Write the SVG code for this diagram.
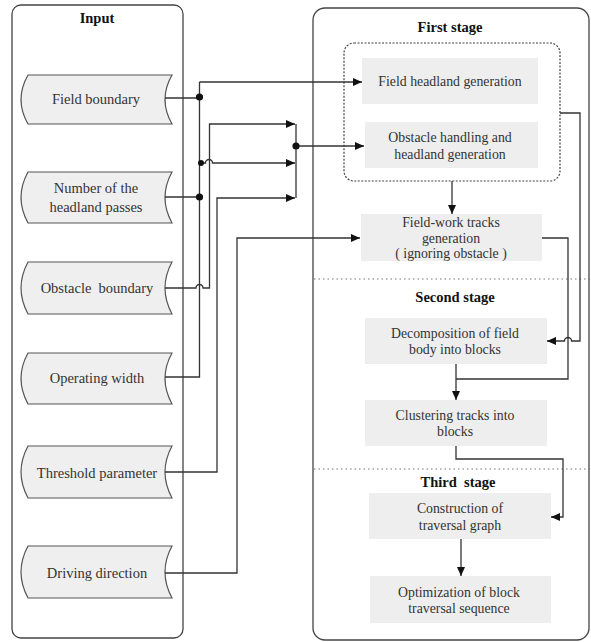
<svg xmlns="http://www.w3.org/2000/svg" width="591" height="642" viewBox="0 0 591 642">
<style>
.panel{fill:#fff;stroke:#444;stroke-width:1.3}
.inp{fill:#efefef;stroke:#555;stroke-width:1.2}
.box{fill:#eeeeee;stroke:none}
.t{font-family:"Liberation Serif","Times New Roman",serif;fill:#333;text-anchor:middle}
.ti{font-size:14.5px}
.tb{font-size:13.8px}
.h{font-family:"Liberation Serif","Times New Roman",serif;font-weight:bold;font-size:14.5px;fill:#111;text-anchor:middle}
.c{fill:none;stroke:#333;stroke-width:1.3}
.ca{fill:none;stroke:#333;stroke-width:1.3;marker-end:url(#arr)}
.dot{fill:#111}
.sep{stroke:#777;stroke-width:1.2;stroke-dasharray:1.5 3;fill:none}
</style>
<defs>
<marker id="arr" markerUnits="userSpaceOnUse" markerWidth="10" markerHeight="8" refX="9" refY="4" orient="auto">
<path d="M0,0 L9,4 L0,8 Z" fill="#111"/>
</marker>
</defs>

<g id="panels">
<rect class="panel" x="12" y="5" width="171" height="633" rx="9"/>
<rect class="panel" x="313" y="8" width="276" height="632" rx="12"/>
<rect x="344" y="43" width="216" height="138" rx="10" fill="none" stroke="#444" stroke-width="1.2" stroke-dasharray="2 1.5"/>
<line class="sep" x1="314" y1="279" x2="591" y2="279"/>
<line class="sep" x1="314" y1="469" x2="591" y2="469"/>
<text class="h" x="97" y="23">Input</text>
<text class="h" x="450" y="32">First stage</text>
<text class="h" x="455" y="302">Second stage</text>
<text class="h" x="458" y="487" xml:space="preserve">Third  stage</text>
</g>

<g id="in-field-boundary">
<path class="inp" d="M28,75 L172,75 Q158,99.5 172,124 L28,124 Q14,99.5 28,75 Z"/>
<text class="t ti" x="96" y="104">Field boundary</text>
</g>
<g id="in-headland-passes">
<path class="inp" d="M28,172 L172,172 Q158,197.5 172,223 L28,223 Q14,197.5 28,172 Z"/>
<text class="t ti" x="96" y="193">Number of the</text>
<text class="t ti" x="96" y="212">headland passes</text>
</g>
<g id="in-obstacle-boundary">
<path class="inp" d="M28,262 L172,262 Q158,288 172,314 L28,314 Q14,288 28,262 Z"/>
<text class="t ti" x="97" y="293" xml:space="preserve">Obstacle  boundary</text>
</g>
<g id="in-operating-width">
<path class="inp" d="M28,353 L172,353 Q158,378.5 172,404 L28,404 Q14,378.5 28,353 Z"/>
<text class="t ti" x="97" y="383">Operating width</text>
</g>
<g id="in-threshold">
<path class="inp" d="M28,446 L172,446 Q158,472 172,498 L28,498 Q14,472 28,446 Z"/>
<text class="t ti" x="97" y="478">Threshold parameter</text>
</g>
<g id="in-driving-direction">
<path class="inp" d="M28,546 L172,546 Q158,572 172,598 L28,598 Q14,572 28,546 Z"/>
<text class="t ti" x="97" y="578">Driving direction</text>
</g>

<g id="n-field-headland">
<rect class="box" x="362" y="58" width="176" height="46"/>
<text class="t tb" x="450" y="86">Field headland generation</text>
</g>
<g id="n-obstacle-handling">
<rect class="box" x="365" y="122" width="173" height="46"/>
<text class="t tb" x="450" y="142">Obstacle handling and</text>
<text class="t tb" x="450" y="159">headland generation</text>
</g>
<g id="n-fieldwork-tracks">
<rect class="box" x="361" y="214" width="181" height="47"/>
<text class="t tb" x="451" y="227">Field-work tracks</text>
<text class="t tb" x="451" y="243">generation</text>
<text class="t tb" x="451" y="258">( ignoring obstacle )</text>
</g>
<g id="n-decomposition">
<rect class="box" x="365" y="318" width="182" height="46"/>
<text class="t tb" x="455" y="338">Decomposition of field</text>
<text class="t tb" x="455" y="354">body into blocks</text>
</g>
<g id="n-clustering">
<rect class="box" x="365" y="400" width="182" height="46"/>
<text class="t tb" x="455" y="420">Clustering tracks into</text>
<text class="t tb" x="455" y="436">blocks</text>
</g>
<g id="n-construction">
<rect class="box" x="369" y="493" width="182" height="46"/>
<text class="t tb" x="460" y="513">Construction of</text>
<text class="t tb" x="460" y="530">traversal graph</text>
</g>
<g id="n-optimization">
<rect class="box" x="370" y="576" width="181" height="47"/>
<text class="t tb" x="459" y="597">Optimization of block</text>
<text class="t tb" x="459" y="613">traversal sequence</text>
</g>

<g id="connectors">
<!-- bus x=199 -->
<path class="c" d="M165,98 L199.5,98"/>
<path class="c" d="M165,197 L199.5,197"/>
<path class="c" d="M165,377 L199.5,377 L199.5,82"/>
<path class="ca" d="M199.5,82 L362,82"/>
<path class="ca" d="M200,163 L205.5,163 A3.5,3.5 0 0 1 212.5,163 L295,163"/>
<!-- obstacle boundary -->
<path class="ca" d="M165,288 L196,288 A3.5,3.5 0 0 1 203,288 L209.5,288 L209.5,124 L295,124"/>
<!-- threshold -->
<path class="ca" d="M165,472 L217,472 L217,198 L295,198"/>
<!-- driving direction -->
<path class="ca" d="M165,573 L237,573 L237,238 L360,238"/>
<!-- merge bar -->
<path class="c" d="M296,124 L296,198"/>
<path class="ca" d="M296,146 L364,146"/>
<!-- first stage to fieldwork -->
<path class="ca" d="M452,181 L452,214"/>
<!-- first stage to decomposition -->
<path class="ca" d="M560,113 L580,113 L580,341 L571.5,341 A3.5,3.5 0 0 0 564.5,341 L547,341"/>
<!-- fieldwork tracks to clustering join -->
<path class="c" d="M542,238 L568,238 L568,379 L456,379"/>
<path class="ca" d="M456,364 L456,400"/>
<!-- clustering to construction -->
<path class="ca" d="M456,446 L456,459 L563,459 L563,517 L551,517"/>
<path class="ca" d="M461,539 L461,576"/>
<circle class="dot" cx="199.5" cy="97" r="3.6"/>
<circle class="dot" cx="199.5" cy="197" r="3.6"/>
<circle class="dot" cx="201" cy="163" r="3"/>
<circle class="dot" cx="296" cy="146" r="3.6"/>
</g>
</svg>
